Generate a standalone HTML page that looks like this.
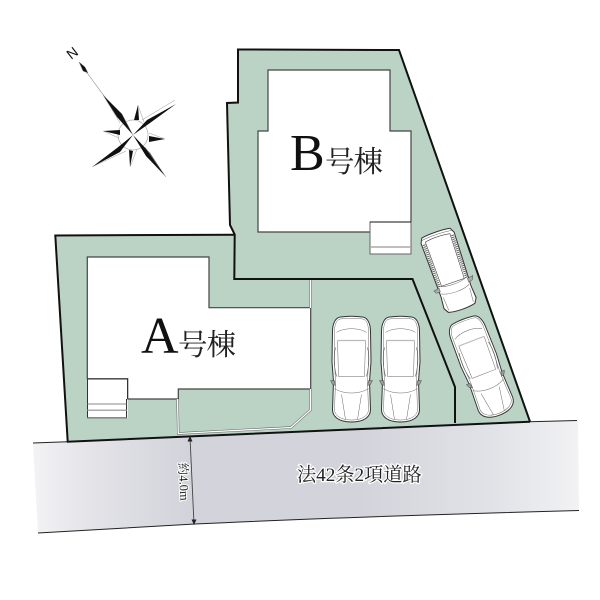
<!DOCTYPE html>
<html><head><meta charset="utf-8"><style>
html,body{margin:0;padding:0;background:#fff}
svg{display:block}
.l{fill:none;stroke:#666;stroke-width:.5}
</style></head><body>
<svg width="600" height="600" viewBox="0 0 600 600" xmlns="http://www.w3.org/2000/svg">
<defs>
<linearGradient id="rd" x1="33" y1="0" x2="579" y2="0" gradientUnits="userSpaceOnUse">
<stop offset="0" stop-color="#f3f3f5"/><stop offset=".1" stop-color="#e4e4e9"/><stop offset=".28" stop-color="#d3d4db"/><stop offset=".6" stop-color="#d3d4db"/><stop offset=".85" stop-color="#e2e3e8"/><stop offset="1" stop-color="#f2f2f4"/>
</linearGradient>
<g id="sedan">
<path fill="#fff" stroke="#333" stroke-width="1" d="M-11,-52.5C-16,-52-19,-46-19,-38L-19.5,-8L-18,12L-19,40C-19,47-13,52.5 0,52.5C13,52.5 19,47 19,40L18,12L19.5,-8L19,-38C19,-46 16,-52 11,-52.5C4,-53.5-4,-53.5-11,-52.5Z"/>
<path class="l" d="M-11,-50.5C-15,-50-17,-45-17,-38L-17,-8L-16,12L-17,40C-17,45-12,50.5 0,50.5C12,50.5 17,45 17,40L16,12L17,-8L17,-38C17,-45 15,-50 11,-50.5C4,-51.5-4,-51.5-11,-50.5Z"/>
<path class="l" d="M-15,-37C-8,-42 8,-42 15,-37M-13,7L13,7M-17,19C-8,25 8,25 17,19M-14,-29L-13,7M14,-29L13,7M-10,25L-6,50M10,25L6,50"/>
<path d="M-14,-29L14,-29" stroke="#bbb" stroke-width="1.2" fill="none"/>
<path d="M-16,-22C-18,-14-18,-5-15,7M16,-22C18,-14 18,-5 15,7" fill="none" stroke="#555" stroke-width=".6"/>
<path d="M-17,11L-21,11L-19,15L-16,16ZM17,11L21,11L19,15L16,16Z" fill="#999" stroke="#333" stroke-width=".4"/>
</g>
</defs>
<!-- road -->
<path d="M33,443L578,420.5L579,510.5C450,514 300,519 195,524L38,533Z" fill="url(#rd)"/>
<path d="M33,443L67,441.7" stroke="#222" stroke-width="1" fill="none"/>
<path d="M530,421.7L577,420.5" stroke="#222" stroke-width="1" fill="none"/>
<path d="M38,533L195,524C300,519 450,514 579,510.5" stroke="#222" stroke-width="1" fill="none"/>
<!-- lots -->
<path d="M238,49.5L399,50L530,421.7L67.7,441.7L55.3,235.5L234.7,234.5L230,225L227,103L238,102.5Z" fill="#bad3c5"/>
<!-- building A -->
<path d="M87.3,257H209V307.7H310.7V389H178.3V399H127.7V417.7H87.3Z" fill="#fff"/>
<path d="M87.3,379V257H209V307.7H310.7V389H178.3V399H127.7V378.7H87.3" fill="none" stroke="#444" stroke-width="1.2"/>
<rect x="87.3" y="379" width="40" height="38.7" fill="#fff"/>
<path d="M87.5,379H127.5V399M87.5,379V417.7H126.5V399" fill="none" stroke="#333" stroke-width="1"/>
<path d="M87.5,404H126.5M87.5,417.5H126.5" stroke="#888" stroke-width="1" fill="none"/>
<path d="M87.5,410.3H126.5" stroke="#aaa" stroke-width="1.5" fill="none"/>
<!-- building B -->
<path d="M268,70H390V131H411V254H370V232H258V131H268Z" fill="#fff"/>
<path d="M370,232H258V131H268V70H390V131H411V222" fill="none" stroke="#444" stroke-width="1.2"/>
<path d="M370,222H411V254H370Z" fill="none" stroke="#666" stroke-width="1"/>
<path d="M370,222H411" stroke="#111" stroke-width="1" fill="none"/>
<path d="M370,247H411" stroke="#aaa" stroke-width="1.5" fill="none"/>
<!-- white walls -->
<path d="M310.5,280V308M310.5,389V410L291,427.5L178.3,433.5L177.5,399" fill="none" stroke="#666" stroke-width="2.4"/>
<path d="M310.5,280V308M310.5,389V410L291,427.5L178.3,433.5L177.5,399" fill="none" stroke="#fff" stroke-width="1.3"/>
<!-- lot borders -->
<path d="M530,421.7L399,50L238,49.5V102.5L227,103L230,225L234.7,234.5L234.3,279H412.5L455,387L455,423" fill="none" stroke="#111" stroke-width="2"/>
<path d="M234.7,234.7L55.3,235.5L67.7,441.7L530,421.7" fill="none" stroke="#111" stroke-width="2"/>
<!-- cars -->
<use href="#sedan" transform="translate(351.5,369.5)"/>
<use href="#sedan" transform="translate(400.5,369.5)"/>
<use href="#sedan" transform="translate(481.5,367.5) rotate(-21) scale(.97)"/>
<!-- van -->
<g transform="translate(449,271) rotate(-19)">
<path d="M-15,-40C-8,-41.5 8,-41.5 15,-40L17.5,-35L16,22L17,34L14,39C6,41-6,41-14,39L-17,34L-16,22L-17.5,-35Z" fill="#fff" stroke="#333" stroke-width="1"/>
<path d="M-13,-35C-6,-36.5 6,-36.5 13,-35L12,12L-12,12Z" fill="none" stroke="#444" stroke-width=".6"/>
<path d="M-15,-33L-14.5,13M15,-33L14.5,13" stroke="#666" stroke-width="3" stroke-dasharray="1 1" fill="none"/>
<path class="l" d="M-16,-37.5C-8,-39 8,-39 16,-37.5M-15,11C-8,15 8,15 15,11M-15,19C-8,23 8,23 15,19M-14,23L-13,37M14,23L13,37"/>
<path d="M-15,13L-21,14L-19,17L-15,17ZM15,13L21,12L19,16L15,17Z" fill="#aaa" stroke="#333" stroke-width=".4"/>
</g>
<!-- compass -->
<g>
<path d="M79,62L133,135" stroke="#888" stroke-width=".6" fill="none"/>
<circle cx="133" cy="135" r="15" fill="#fff" stroke="#aaa" stroke-width=".7"/>
<path d="M103,95L122,114L133,135L117,117Z" fill="#111"/>
<path d="M103,95L120,123M133,135L122,114" fill="none" stroke="#999" stroke-width=".5"/>
<path d="M176,104L150,123L133,135L147,120Z" fill="#111"/>
<path d="M176,104L143,124" stroke="#999" stroke-width=".5" fill="none" transform="translate(-1,-4)"/>
<path d="M166,177L146,156L133,135L150,153Z" fill="#111"/>
<path d="M166,177L145,147" stroke="#999" stroke-width=".5" fill="none"/>
<path d="M92,167L117,148L133,135L120,152Z" fill="#111"/>
<path d="M92,167L126,151" stroke="#999" stroke-width=".5" fill="none"/>
<path d="M138,105L134,120L139,120Z" fill="#111"/>
<path d="M138,105L144,122" stroke="#999" stroke-width=".5" fill="none"/>
<path d="M165,139L149,136L149,142Z" fill="#111"/>
<path d="M165,139L149,133" stroke="#999" stroke-width=".5" fill="none"/>
<path d="M130,167L129,150L133,151Z" fill="#111"/>
<path d="M130,167L137,149" stroke="#999" stroke-width=".5" fill="none"/>
<path d="M103,131L120,130L120,135Z" fill="#111"/>
<path d="M103,131L119,138" stroke="#999" stroke-width=".5" fill="none"/>
<path d="M79,62L85,67L88,73L83,71Z" fill="#111" stroke="#888" stroke-width=".4"/>
<text x="73" y="54" font-family="Liberation Sans, sans-serif" font-size="14" fill="#111" text-anchor="middle" dominant-baseline="middle" transform="rotate(-38 73 54)">N</text>
</g>
<!-- labels -->
<text x="141" y="353" font-family="Liberation Serif, serif" font-size="52" fill="#111">A</text>
<text x="178" y="355" font-family="Noto Serif CJK SC, serif" font-size="29.5" fill="#222" letter-spacing="-1">号棟</text>
<text x="290" y="170" font-family="Liberation Serif, serif" font-size="52" fill="#111">B</text>
<text x="325" y="172" font-family="Noto Serif CJK SC, serif" font-size="29.5" fill="#222" letter-spacing="-1">号棟</text>
<text x="297" y="481" font-family="Liberation Serif, Noto Serif CJK SC, serif" font-size="19.2" fill="#222" stroke="#fff" stroke-width="2.5" paint-order="stroke">法42条2項道路</text>
<!-- dimension -->
<path d="M190,437L194,524" stroke="#444" stroke-width=".9" fill="none"/>
<path d="M190,436L187.5,441.5H192.5ZM194,525L191.5,519.5H196.5Z" fill="#222"/>
<text transform="translate(178.5,463) rotate(87)" font-family="Liberation Serif, Noto Serif CJK SC, serif" font-size="12.5" fill="#222" stroke="#fff" stroke-width="2" paint-order="stroke">約4.0m</text>
</svg>
</body></html>
